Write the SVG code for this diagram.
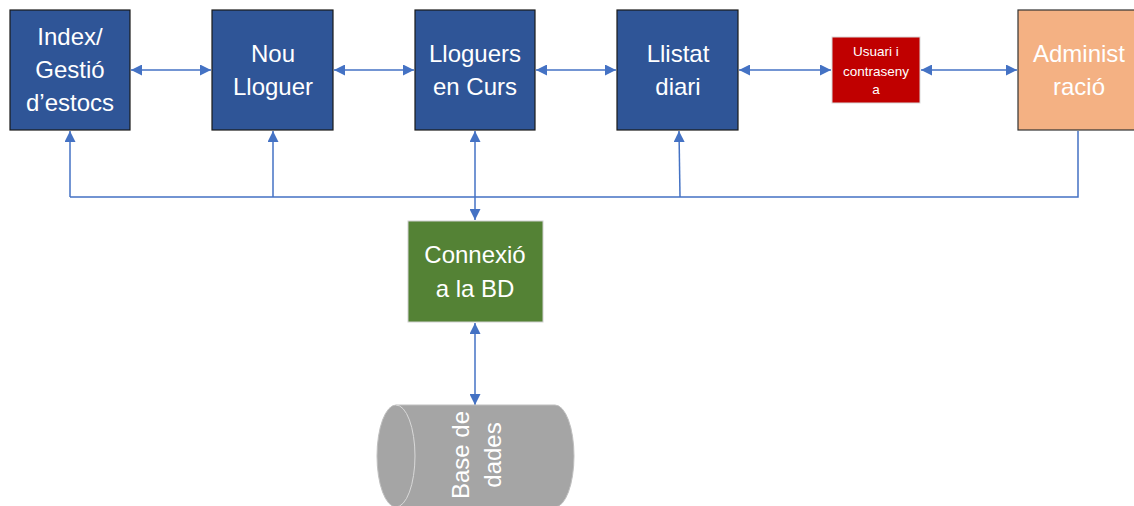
<svg xmlns="http://www.w3.org/2000/svg" width="1134" height="506" viewBox="0 0 1134 506">
<defs>
<style>
.lbl{font-family:"Liberation Sans",Arial,sans-serif;font-size:24px;fill:#ffffff;text-anchor:middle}
.sm{font-family:"Liberation Sans",Arial,sans-serif;font-size:13.5px;fill:#ffffff;text-anchor:middle}
.con{fill:none;stroke:#4472C4;stroke-width:1.5}
.blue{fill:#2F5597;stroke:#1a1a1a;stroke-width:1.2}
</style>
<marker id="ah" viewBox="0 0 10 10" refX="10" refY="5" markerWidth="12" markerHeight="11" markerUnits="userSpaceOnUse" orient="auto-start-reverse">
<path d="M0,0 L10,5 L0,10 Z" fill="#4472C4"/>
</marker>
</defs>
<rect width="1134" height="506" fill="#ffffff"/>
<g id="connectors">
<line class="con" x1="131" y1="70" x2="211" y2="70" marker-start="url(#ah)" marker-end="url(#ah)"/>
<line class="con" x1="334" y1="70" x2="414" y2="70" marker-start="url(#ah)" marker-end="url(#ah)"/>
<line class="con" x1="536" y1="70" x2="616" y2="70" marker-start="url(#ah)" marker-end="url(#ah)"/>
<line class="con" x1="739" y1="70" x2="831" y2="70" marker-start="url(#ah)" marker-end="url(#ah)"/>
<line class="con" x1="921" y1="70" x2="1017" y2="70" marker-start="url(#ah)" marker-end="url(#ah)"/>
<polyline class="con" points="1078,131 1078,197 70,197"/>
<line class="con" x1="70" y1="197" x2="70" y2="131" marker-end="url(#ah)"/>
<line class="con" x1="273" y1="197" x2="273" y2="131" marker-end="url(#ah)"/>
<line class="con" x1="475" y1="131" x2="475" y2="220" marker-start="url(#ah)" marker-end="url(#ah)"/>
<line class="con" x1="680" y1="197" x2="679" y2="131" marker-end="url(#ah)"/>
<line class="con" x1="475" y1="323" x2="475" y2="405" marker-start="url(#ah)" marker-end="url(#ah)"/>
</g>
<g id="index">
<rect class="blue" x="10" y="10" width="120" height="120"/>
<text class="lbl"><tspan x="70" y="45">Index/</tspan><tspan x="70" y="78">Gestió</tspan><tspan x="70" y="111">d’estocs</tspan></text>
</g>
<g id="nou-lloguer">
<rect class="blue" x="212" y="10" width="121" height="120"/>
<text class="lbl"><tspan x="273" y="62">Nou</tspan><tspan x="273" y="95">Lloguer</tspan></text>
</g>
<g id="lloguers-curs">
<rect class="blue" x="415" y="10" width="120" height="120"/>
<text class="lbl"><tspan x="475" y="62">Lloguers</tspan><tspan x="475" y="95">en Curs</tspan></text>
</g>
<g id="llistat">
<rect class="blue" x="617" y="10" width="121" height="120"/>
<text class="lbl"><tspan x="678" y="62">Llistat</tspan><tspan x="678" y="95">diari</tspan></text>
</g>
<g id="usuari">
<rect x="832" y="37" width="88" height="66" fill="#C00000" stroke="#d9d9d9" stroke-width="1"/>
<text class="sm"><tspan x="876" y="56">Usuari i</tspan><tspan x="876" y="76">contraseny</tspan><tspan x="876" y="94">a</tspan></text>
</g>
<g id="administracio">
<rect x="1018" y="10" width="122" height="120" fill="#F4B183" stroke="#333333" stroke-width="1.2"/>
<text class="lbl"><tspan x="1079" y="62">Administ</tspan><tspan x="1079" y="95">ració</tspan></text>
</g>
<g id="connexio">
<rect x="408" y="221" width="135" height="101" fill="#548235" stroke="#d0d0d0" stroke-width="1"/>
<text class="lbl"><tspan x="475" y="263">Connexió</tspan><tspan x="475" y="297">a la BD</tspan></text>
</g>
<g id="base-dades">
<path d="M396,405 L555,405 A19,51 0 0 1 555,507 L396,507 A19,51 0 0 1 396,405 Z" fill="#A5A5A5" stroke="#bfbfbf" stroke-width="1"/>
<path d="M396,405 A19,51 0 0 1 396,507" fill="none" stroke="#d9d9d9" stroke-width="1"/>
<text class="lbl" transform="translate(469,455) rotate(-90)"><tspan x="0" y="0">Base de</tspan><tspan x="0" y="32">dades</tspan></text>
</g>
</svg>
